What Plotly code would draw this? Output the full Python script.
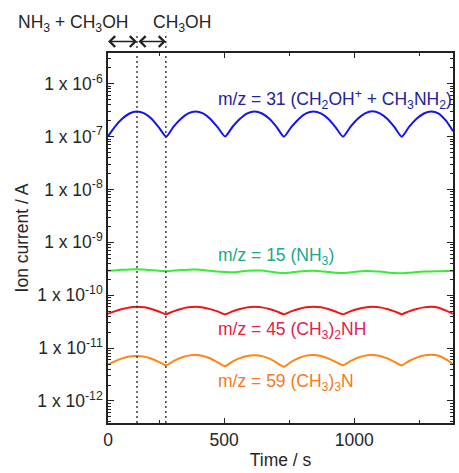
import plotly.graph_objects as go

# ---- data ----
time_s = [54, 79, 108, 136, 164, 193, 221, 249,
          277, 305, 334, 362, 390, 419, 447, 475,
          504, 532, 561, 589, 617, 646, 674, 702,
          730, 758, 787, 815, 843, 872, 900, 928,
          957, 985, 1014, 1042, 1070, 1099, 1127, 1155,
          1183, 1211, 1240, 1268, 1296, 1325, 1353, 1380]

mz31 = [1.02, 1.52, 2.17, 2.74, 2.98, 2.76, 2.18, 1.50,
        1.00, 1.53, 2.18, 2.76, 3.00, 2.75, 2.16, 1.51,
        1.01, 1.52, 2.17, 2.75, 2.99, 2.74, 2.17, 1.52,
        1.00, 1.51, 2.16, 2.75, 3.00, 2.76, 2.18, 1.52,
        1.00, 1.52, 2.18, 2.76, 3.01, 2.75, 2.17, 1.51,
        1.00, 1.53, 2.17, 2.74, 2.99, 2.72, 2.00, 1.27]  # x 1e-7

mz15 = [2.90, 2.95, 3.02, 3.08, 3.10, 3.05, 2.98, 2.90,
        2.85, 2.92, 3.00, 3.04, 3.05, 3.00, 2.90, 2.80,
        2.75, 2.72, 2.80, 2.90, 2.95, 2.92, 2.80, 2.68,
        2.62, 2.70, 2.82, 2.88, 2.90, 2.85, 2.75, 2.66,
        2.62, 2.70, 2.80, 2.86, 2.85, 2.80, 2.70, 2.62,
        2.60, 2.66, 2.74, 2.80, 2.82, 2.84, 2.86, 2.86]  # x 1e-10

mz45 = [4.45, 4.95, 5.48, 5.88, 6.03, 5.90, 5.47, 4.93,
        4.38, 4.96, 5.50, 5.90, 6.05, 5.88, 5.46, 4.94,
        4.37, 4.94, 5.49, 5.89, 6.04, 5.89, 5.48, 4.95,
        4.38, 4.95, 5.50, 5.90, 6.06, 5.90, 5.47, 4.93,
        4.37, 4.95, 5.48, 5.88, 6.03, 5.89, 5.48, 4.94,
        4.38, 4.96, 5.49, 5.89, 6.04, 5.80, 5.10, 4.45]  # x 1e-11

mz59 = [4.85, 5.60, 6.40, 6.95, 7.10, 6.90, 6.30, 5.50,
        4.74, 5.65, 6.55, 7.20, 7.40, 7.10, 6.35, 5.40,
        4.57, 5.55, 6.45, 7.10, 7.30, 7.05, 6.30, 5.30,
        4.45, 5.50, 6.50, 7.20, 7.40, 7.10, 6.40, 5.50,
        4.74, 5.65, 6.55, 7.20, 7.40, 7.10, 6.40, 5.50,
        4.74, 5.70, 6.60, 7.25, 7.45, 7.15, 6.10, 4.95]  # x 1e-12

series = [
    ("m/z = 31", [v * 1e-7 for v in mz31], "#1414ee"),
    ("m/z = 15", [v * 1e-10 for v in mz15], "#33ee33"),
    ("m/z = 45", [v * 1e-11 for v in mz45], "#ee1515"),
    ("m/z = 59", [v * 1e-12 for v in mz59], "#ff8515"),
]

x_tick_vals = [54, 500, 1000]
x_tick_text = ["0", "500", "1000"]
x_minor_vals = [250, 750, 1250]

y_exps = [-12, -11, -10, -9, -8, -7, -6]
y_tick_vals = [10.0 ** e for e in y_exps]
y_tick_text = ["1 x 10<sup>%d</sup>" % e for e in y_exps]
y_minor_vals = [k * 10.0 ** e for e in range(-13, -5) for k in range(2, 10)]

switch_times = [165, 276]
arrow_spans = [(48, 165), (165, 276)]

labels = [
    ("m/z = 31 (CH<sub>2</sub>OH<sup>+</sup> + CH<sub>3</sub>NH<sub>2</sub>)", -6.30, "#22229c"),
    ("m/z = 15 (NH<sub>3</sub>)", -9.27, "#1aa98a"),
    ("m/z = 45 (CH<sub>3</sub>)<sub>2</sub>NH", -10.66, "#e8204a"),
    ("m/z = 59 (CH<sub>3</sub>)<sub>3</sub>N", -11.66, "#f57a20"),
]

FONT = "Liberation Sans, Arial, sans-serif"
TXT = "#262626"
FS = 17.5

fig = go.Figure()
for name, vals, col in series:
    fig.add_trace(go.Scatter(x=time_s, y=vals, mode="lines", name=name,
                             line=dict(color=col, width=2, shape="spline", smoothing=0.6),
                             showlegend=False))

for t in switch_times:
    fig.add_shape(type="line", xref="x", yref="paper", x0=t, x1=t, y0=0, y1=1.055,
                  line=dict(color="#222222", width=1.3, dash="2px,3px"))

annotations = []
for a, b in arrow_spans:
    annotations.append(dict(x=b, y=1.031, xref="x", yref="paper", ax=a, ay=0,
                            axref="x", ayref="pixel", text="", showarrow=True,
                            arrowhead=4, startarrowhead=4, arrowside="end+start",
                            arrowsize=1.5, startarrowsize=1.5, arrowwidth=1.4,
                            arrowcolor="#222222"))
for txt, ylog, col in labels:
    annotations.append(dict(x=468, y=ylog, xref="x", yref="y", text=txt,
                            showarrow=False, xanchor="left", yanchor="middle",
                            font=dict(family=FONT, size=FS, color=col)))
annotations.append(dict(x=-0.102, y=1.081, xref="paper", yref="paper",
                        text="NH<sub>3</sub> + CH<sub>3</sub>OH", showarrow=False,
                        xanchor="center", yanchor="middle",
                        font=dict(family=FONT, size=FS, color=TXT)))
annotations.append(dict(x=0.2155, y=1.081, xref="paper", yref="paper",
                        text="CH<sub>3</sub>OH", showarrow=False,
                        xanchor="center", yanchor="middle",
                        font=dict(family=FONT, size=FS, color=TXT)))

fig.update_layout(
    width=459, height=473,
    margin=dict(l=108, r=4, t=53, b=50),
    paper_bgcolor="white", plot_bgcolor="white",
    font=dict(family=FONT, size=FS, color=TXT),
    annotations=annotations,
    xaxis=dict(range=[53.6, 1380], tickmode="array", tickvals=x_tick_vals,
               ticktext=x_tick_text, ticks="inside", ticklen=5, tickwidth=1.2,
               tickcolor="#222222", showline=True, linecolor="#222222", linewidth=1.5,
               mirror="allticks", showgrid=False, zeroline=False,
               minor=dict(tickmode="array", tickvals=x_minor_vals, ticks="inside",
                          ticklen=3, tickwidth=1.2, tickcolor="#222222", showgrid=False),
               title=dict(text="Time / s", font=dict(family=FONT, size=FS, color=TXT),
                          standoff=5),
               tickfont=dict(family=FONT, size=FS, color=TXT)),
    yaxis=dict(type="log", range=[-12.417, -5.418], tickmode="array",
               tickvals=y_tick_vals, ticktext=y_tick_text, ticks="inside",
               ticklen=6, tickwidth=1.2, tickcolor="#222222", showline=True,
               linecolor="#222222", linewidth=1.5, mirror="allticks",
               showgrid=False, zeroline=False,
               minor=dict(tickmode="array", tickvals=y_minor_vals, ticks="inside",
                          ticklen=3, tickwidth=1, tickcolor="#222222", showgrid=False),
               title=dict(text="Ion current / A", font=dict(family=FONT, size=FS, color=TXT),
                          standoff=4),
               tickfont=dict(family=FONT, size=FS, color=TXT)),
)

fig.write_html("out.html")
